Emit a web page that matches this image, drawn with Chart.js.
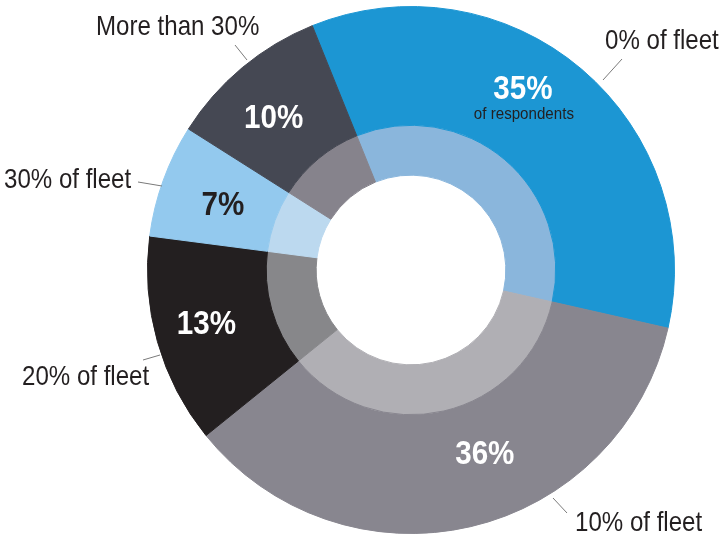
<!DOCTYPE html>
<html>
<head>
<meta charset="utf-8">
<script src="https://cdn.jsdelivr.net/npm/chart.js@4.4.1/dist/chart.umd.min.js"></script>
<style>
  html, body { margin: 0; padding: 0; background: #fff; }
  #wrap { width: 721px; height: 535px; position: relative; }
</style>
</head>
<body>
<div id="wrap"><canvas id="fleetChart"></canvas></div>
<script>
// --- data ---
const categories = ['0% of fleet', '10% of fleet', '20% of fleet', '30% of fleet', 'More than 30%'];
const shares = [35, 36, 13, 7, 10];   // % of respondents

// --- styles ---
const outerColors = ['#1c96d3', '#88868f', '#231f20', '#93c9ee', '#454853'];
const innerColors = ['#8ab6dc', '#b0afb4', '#87878a', '#bcd9ef', '#86838c'];
const valueTextColors = ['#ffffff', '#ffffff', '#ffffff', '#231f20', '#ffffff'];
const FONT = '"Liberation Sans", Arial, sans-serif';

// where the value labels sit inside the ring (deg clockwise from top, px from centre at r=264)
const valueAngles = [31.5, 157.9, 255.8, 289.6, 318.3];
const valueRadii = [214.6, 196.5, 211.5, 200, 206.8];

// category labels outside the ring, with leader lines
const catLabels = [
  { x: 605, y: 49, line: [622, 59, 603, 80] },
  { x: 575, y: 531, line: [553, 498, 567, 513] },
  { x: 22, y: 385, line: [143, 360, 160, 355] },
  { x: 4, y: 188, line: [138, 182, 162, 186] },
  { x: 96, y: 35, line: [235, 45, 247, 60] }
];

// narrow text: the source uses a condensed face, squeeze a regular one
function squeezeText(ctx, text, x, y, align, sx) {
  ctx.save();
  ctx.translate(x, y);
  ctx.scale(sx, 1);
  ctx.textAlign = align;
  ctx.fillText(text, 0, 0);
  ctx.restore();
}

const labelPlugin = {
  id: 'labels',
  afterDraw(chart) {
    const ctx = chart.ctx;
    const arc = chart.getDatasetMeta(0).data[0];
    const cx = arc.x, cy = arc.y;
    const k = arc.outerRadius / 264;
    ctx.save();
    ctx.textBaseline = 'alphabetic';

    // leader lines + category names
    ctx.strokeStyle = '#7a7a7a';
    ctx.lineWidth = 1;
    ctx.fillStyle = '#231f20';
    ctx.font = '28px ' + FONT;
    catLabels.forEach((c, i) => {
      ctx.beginPath();
      ctx.moveTo(c.line[0], c.line[1]);
      ctx.lineTo(c.line[2], c.line[3]);
      ctx.stroke();
      squeezeText(ctx, categories[i], c.x, c.y, 'left', 0.86);
    });

    // percentages in the ring
    shares.forEach((v, i) => {
      const a = valueAngles[i] * Math.PI / 180;
      const r = valueRadii[i] * k;
      const x = cx + r * Math.sin(a);
      const y = cy - r * Math.cos(a);
      ctx.font = 'bold 34px ' + FONT;
      ctx.fillStyle = valueTextColors[i];
      squeezeText(ctx, v + '%', x, y + 12, 'center', 0.87);
      if (i === 0) {
        ctx.font = '17px ' + FONT;
        ctx.fillStyle = '#231f20';
        squeezeText(ctx, 'of respondents', x + 1, y + 32, 'center', 0.89);
      }
    });
    ctx.restore();
  }
};

new Chart(document.getElementById('fleetChart'), {
  type: 'doughnut',
  data: {
    labels: categories,
    datasets: [
      {
        data: shares,
        backgroundColor: outerColors,
        borderColor: outerColors,
        borderWidth: 1,
        weight: 119
      },
      {
        data: shares,
        backgroundColor: innerColors,
        borderColor: innerColors,
        borderWidth: 1,
        weight: 50
      }
    ]
  },
  plugins: [labelPlugin],
  options: {
    responsive: true,
    maintainAspectRatio: false,
    animation: false,
    rotation: -22,
    cutout: '36%',
    layout: { padding: { left: 147, right: 46, top: 6, bottom: 1 } },
    plugins: {
      legend: { display: false },
      tooltip: { enabled: false }
    }
  }
});
</script>
</body>
</html>
